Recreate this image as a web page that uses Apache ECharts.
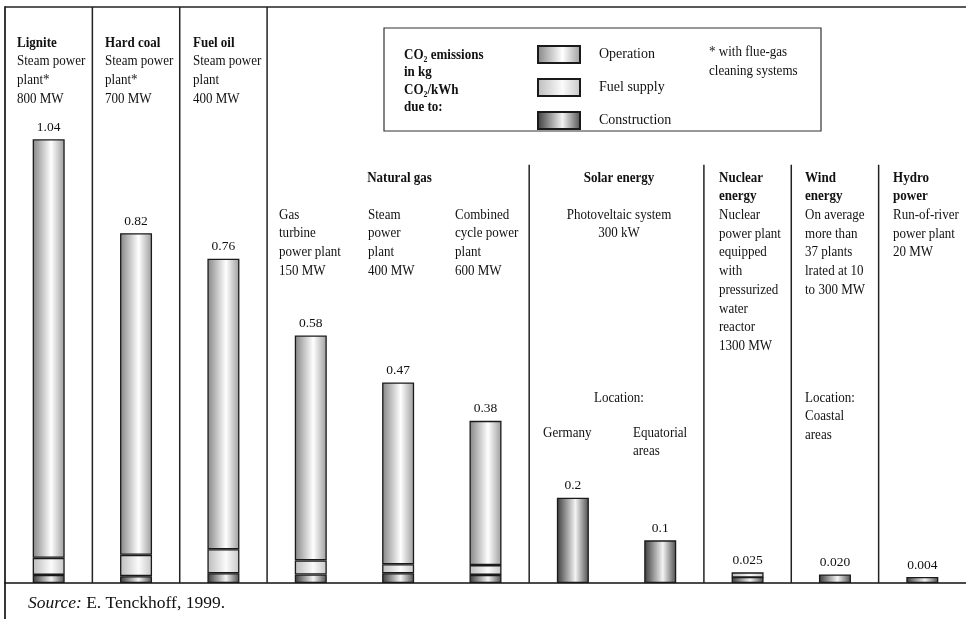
<!DOCTYPE html>
<html>
<head>
<meta charset="utf-8">
<script src="https://cdn.jsdelivr.net/npm/echarts@6/dist/echarts.min.js"></script>
<style>
  html, body { margin: 0; padding: 0; background: #fff; }
  #chart { width: 966px; height: 619px; }
</style>
</head>
<body>
<div id="chart"></div>
<script>
// CO2 emissions per kWh by power-plant type, split by origin (kg CO2/kWh)
const categories = ['Lignite', 'Hard coal', 'Fuel oil', 'Gas turbine', 'Gas steam', 'Combined cycle',
  'PV Germany', 'PV equatorial', 'Nuclear', 'Wind', 'Hydro'];
const construction = [0.019, 0.016, 0.023, 0.020, 0.023, 0.019, 0.2, 0.1, 0.013, 0.020, 0.004];
const fuelSupply   = [0.040, 0.050, 0.056, 0.033, 0.021, 0.023, null, null, 0.012, null, null];
const operation    = [0.981, 0.754, 0.681, 0.527, 0.426, 0.338, null, null, null, null, null];
const totalLabels  = ['1.04', '0.82', '0.76', '0.58', '0.47', '0.38', '0.2', '0.1', '0.025', '0.020', '0.004'];

// group boundaries (between category slots) and how far up each divider runs
const dividers = [[0.5, 1.35], [1.5, 1.35], [2.5, 1.35], [5.5, 0.98], [7.5, 0.98], [8.5, 0.98], [9.5, 0.98]];

const FONT = '"Liberation Serif", "Times New Roman", serif';
const INK = '#111';
const LH = 18.7;
const FS = 14;        // body text size
const SX = 0.93;      // slight horizontal condensing of body text

function cyl(left, mid, right) {
  return new echarts.graphic.LinearGradient(0, 0, 1, 0, [
    { offset: 0, color: left }, { offset: 0.58, color: mid }, { offset: 1, color: right }
  ]);
}
const colOperation = cyl('#858585', '#ffffff', '#9c9c9c');
const colFuel = cyl('#bcbcbc', '#fbfbfb', '#c6c6c6');
const colConstruction = cyl('#3a3a3a', '#f3f3f3', '#4c4c4c');

// put the total above the top-most segment of each column
const stackOrder = [construction, fuelSupply, operation];
function topIndex(i) {
  let top = -1;
  stackOrder.forEach((arr, k) => { if (arr[i] != null) top = k; });
  return top;
}
function withLabels(arr, k) {
  return arr.map((v, i) => {
    if (v == null) return null;
    if (topIndex(i) !== k) return v;
    return { value: v, label: { show: true, formatter: totalLabels[i] } };
  });
}

const barCommon = {
  type: 'bar',
  stack: 'co2',
  barWidth: 32,
  xAxisIndex: 0,
  yAxisIndex: 0,
  label: { show: false, position: 'top', distance: 5, fontFamily: FONT, fontSize: 13.5, color: INK },
  emphasis: { disabled: true }
};

// text blocks: bold heading lines followed by regular lines
const blocks = [
  { x: 17, y: 43, bold: ['Lignite'], lines: ['Steam power', 'plant*', '800 MW'] },
  { x: 105, y: 43, bold: ['Hard coal'], lines: ['Steam power', 'plant*', '700 MW'] },
  { x: 193, y: 43, bold: ['Fuel oil'], lines: ['Steam power', 'plant', '400 MW'] },
  { x: 399.5, y: 178, align: 'center', bold: ['Natural gas'], lines: [] },
  { x: 279, y: 215, bold: [], lines: ['Gas', 'turbine', 'power plant', '150 MW'] },
  { x: 368, y: 215, bold: [], lines: ['Steam', 'power', 'plant', '400 MW'] },
  { x: 455, y: 215, bold: [], lines: ['Combined', 'cycle power', 'plant', '600 MW'] },
  { x: 619, y: 178, align: 'center', bold: ['Solar energy'], lines: [] },
  { x: 619, y: 215, align: 'center', bold: [], lines: ['Photoveltaic system', '300 kW'] },
  { x: 619, y: 398, align: 'center', bold: [], lines: ['Location:'] },
  { x: 543, y: 433, bold: [], lines: ['Germany'] },
  { x: 633, y: 433, bold: [], lines: ['Equatorial', 'areas'] },
  { x: 719, y: 178, bold: ['Nuclear', 'energy'], lines: ['Nuclear', 'power plant', 'equipped', 'with', 'pressurized', 'water', 'reactor', '1300 MW'] },
  { x: 805, y: 178, bold: ['Wind', 'energy'], lines: ['On average', 'more than', '37 plants', 'lrated at 10', 'to 300 MW'] },
  { x: 805, y: 398, bold: [], lines: ['Location:', 'Coastal', 'areas'] },
  { x: 893, y: 178, bold: ['Hydro', 'power'], lines: ['Run-of-river', 'power plant', '20 MW'] },
  { x: 404, y: 55, lh: 17.5, bold: ['CO₂ emissions', 'in kg', 'CO₂/kWh', 'due to:'], lines: [] },
  { x: 709, y: 52, lh: 19, bold: [], lines: ['* with flue-gas', 'cleaning systems'] }
];

function textEl(x, y, lines, lh, align, weight) {
  return {
    type: 'text', silent: true,
    x: x, y: y - lh / 2, scaleX: SX,
    style: {
      text: lines.join('\n'), x: 0, y: 0,
      fontFamily: FONT, fontSize: FS, fontWeight: weight, lineHeight: lh,
      fill: INK, align: align, verticalAlign: 'top'
    }
  };
}

const graphics = [];
// frame: top rule and left rule
graphics.push({ type: 'line', silent: true, shape: { x1: 5, y1: 7, x2: 966, y2: 7 }, style: { stroke: '#222', lineWidth: 1.5 } });
graphics.push({ type: 'line', silent: true, shape: { x1: 5, y1: 6.25, x2: 5, y2: 619 }, style: { stroke: '#222', lineWidth: 1.8 } });
// key box
graphics.push({ type: 'rect', silent: true, shape: { x: 384, y: 28, width: 437, height: 103 },
  style: { fill: 'none', stroke: '#333', lineWidth: 1.2 } });
blocks.forEach(b => {
  const lh = b.lh || LH;
  const align = b.align || 'left';
  if (b.bold.length) graphics.push(textEl(b.x, b.y, b.bold, lh, align, 'bold'));
  if (b.lines.length) graphics.push(textEl(b.x, b.y + b.bold.length * lh, b.lines, lh, align, 'normal'));
});
graphics.push({
  type: 'text', silent: true,
  style: {
    text: '{i|Source:} E. Tenckhoff, 1999.', x: 28, y: 603,
    fontFamily: FONT, fontSize: 17.5, fill: INK, verticalAlign: 'middle',
    rich: { i: { fontFamily: FONT, fontSize: 17.5, fontStyle: 'italic', fill: INK } }
  }
});

const chart = echarts.init(document.getElementById('chart'), null, { renderer: 'canvas' });
chart.setOption({
  animation: false,
  backgroundColor: '#fff',
  grid: { left: 5, right: -3, top: 7, bottom: 36 },
  xAxis: [
    {
      type: 'category', data: categories,
      axisLine: { show: true, lineStyle: { color: '#111', width: 1.6 } },
      axisTick: { show: false }, axisLabel: { show: false }, splitLine: { show: false }
    },
    { type: 'value', min: -0.5, max: 10.5, show: false }
  ],
  yAxis: { type: 'value', min: 0, max: 1.35, show: false, splitLine: { show: false } },
  legend: {
    data: ['Operation', 'Fuel supply', 'Construction'],
    orient: 'vertical', left: 537, top: 45, padding: 0,
    itemWidth: 42, itemHeight: 17, itemGap: 14, icon: 'rect',
    selectedMode: false,
    textStyle: { fontFamily: FONT, fontSize: 14, color: INK, padding: [0, 0, 0, 14] }
  },
  series: [
    Object.assign({}, barCommon, {
      name: 'Construction', data: withLabels(construction, 0), barMinHeight: 6,
      itemStyle: { color: colConstruction, borderColor: '#1a1a1a', borderWidth: 1.3 }
    }),
    Object.assign({}, barCommon, {
      name: 'Fuel supply', data: withLabels(fuelSupply, 1),
      itemStyle: { color: colFuel, borderColor: '#1a1a1a', borderWidth: 1.3 }
    }),
    Object.assign({}, barCommon, {
      name: 'Operation', data: withLabels(operation, 2),
      itemStyle: { color: colOperation, borderColor: '#1a1a1a', borderWidth: 1.3 }
    }),
    {
      type: 'custom', name: 'dividers', xAxisIndex: 1, yAxisIndex: 0, clip: false, silent: true,
      data: dividers,
      renderItem: function (params, api) {
        const bottom = api.coord([api.value(0), 0]);
        const top = api.coord([api.value(0), api.value(1)]);
        return {
          type: 'line',
          shape: { x1: bottom[0], y1: bottom[1], x2: top[0], y2: top[1] },
          style: { stroke: '#222', lineWidth: 1.5 }
        };
      }
    }
  ],
  graphic: graphics
});
</script>
</body>
</html>
